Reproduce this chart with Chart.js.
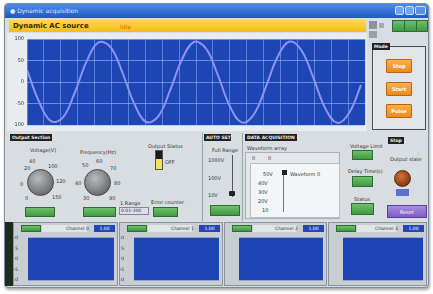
<!DOCTYPE html>
<html>
<head>
<meta charset="utf-8">
<script src="https://cdn.jsdelivr.net/npm/chart.js@4"></script>
<style>
  body { margin:0; width:433px; height:294px; background:#fff; overflow:hidden; position:relative; font-family:"DejaVu Sans", sans-serif; }
  .a { position:absolute; box-sizing:border-box; }
  .tag { background:#222; color:#eee; font-size:4.5px; line-height:7px; height:7px; padding:0 2px; font-weight:bold; white-space:nowrap; overflow:hidden; }
  .lbl { font-size:5px; color:#333; white-space:nowrap; }
  .green { background:linear-gradient(#6fbf6a,#3f9a42); border:1px solid #2d6e30; }
  .obtn { background:linear-gradient(#f9b04e,#ec8a1c); border:1px solid #b8650e; color:#fff; font-size:5px; font-weight:bold; text-align:center; line-height:12px; border-radius:1px; }
  .knob { border-radius:50%; background:radial-gradient(circle at 40% 35%, #b9bcbf, #6f7275 70%, #55585a); border:1px solid #444; }
  .panel { background:#c9ced3; border:1px solid #8c949b; }
</style>
</head>
<body>
<!-- window frame -->
<div class="a" style="left:4px;top:3px;width:425px;height:285px;background:#d8dde1;border:1px solid #7e8c99;border-radius:4px;box-shadow:1px 2px 3px rgba(0,0,0,.35)"></div>
<div class="a" style="left:5px;top:4px;width:423px;height:14px;background:linear-gradient(#4c8de6,#1f58c4);border-radius:3px 3px 0 0"></div>
<div class="a lbl" style="left:10px;top:7px;color:#dfe9ff;font-size:6px">&#9679; Dynamic acquisition</div>
<div class="a" style="left:395px;top:6px;width:9px;height:9px;background:#6fa3ee;border:1px solid #cfe0ff;border-radius:2px"></div>
<div class="a" style="left:405px;top:6px;width:9px;height:9px;background:#6fa3ee;border:1px solid #cfe0ff;border-radius:2px"></div>
<div class="a" style="left:415px;top:6px;width:11px;height:9px;background:#5b8fe0;border:1px solid #cfe0ff;border-radius:2px"></div>

<!-- yellow status bar -->
<div class="a" style="left:9px;top:20px;width:357px;height:12px;background:linear-gradient(#ffd84a,#f3bd1c)"></div>
<div class="a lbl" style="left:13px;top:22px;font-size:7px;font-weight:bold;color:#3a2a00">Dynamic AC source</div>
<div class="a lbl" style="left:120px;top:23px;font-size:6px;color:#d86a00">Idle</div>
<div class="a" style="left:369px;top:21px;width:8px;height:8px;background:#8d939a"></div>
<div class="a" style="left:379px;top:23px;width:5px;height:5px;background:#a6acb2"></div>
<div class="a" style="left:369px;top:31px;width:8px;height:7px;background:#9aa0a6"></div>
<div class="a green" style="left:392px;top:20px;width:36px;height:12px"></div>
<div class="a" style="left:404px;top:21px;width:1px;height:10px;background:#2d6e30"></div>
<div class="a" style="left:416px;top:21px;width:1px;height:10px;background:#2d6e30"></div>

<!-- main waveform chart -->
<div class="a" style="left:7px;top:33px;width:360px;height:98px;background:#e8ecef">
  <canvas id="mainChart" width="360" height="98"></canvas>
</div>

<!-- mode panel -->
<div class="a" style="left:372px;top:46px;width:54px;height:84px;border:1px solid #4a4f55;background:#e1e5e8"></div>
<div class="a tag" style="left:372px;top:43px">Mode</div>
<div class="a obtn" style="left:386px;top:59px;width:26px;height:14px">Stop</div>
<div class="a obtn" style="left:386px;top:82px;width:26px;height:14px">Start</div>
<div class="a obtn" style="left:386px;top:104px;width:26px;height:14px">Pulse</div>

<!-- output section -->
<div class="a tag" style="left:10px;top:134px;width:42px">Output Section</div>
<div class="a lbl" style="left:30px;top:147px">Voltage(V)</div>
<div class="a lbl" style="left:80px;top:149px">Frequency(Hz)</div>
<div class="a knob" style="left:27px;top:169px;width:27px;height:27px"></div>
<div class="a knob" style="left:84px;top:169px;width:27px;height:27px"></div>
<div class="a lbl" style="left:24px;top:165px">20</div>
<div class="a lbl" style="left:29px;top:158px">40</div>
<div class="a lbl" style="left:48px;top:163px">100</div>
<div class="a lbl" style="left:56px;top:178px">120</div>
<div class="a lbl" style="left:20px;top:181px">0</div>
<div class="a lbl" style="left:25px;top:195px">0</div>
<div class="a lbl" style="left:52px;top:194px">150</div>
<div class="a lbl" style="left:82px;top:162px">50</div>
<div class="a lbl" style="left:96px;top:158px">60</div>
<div class="a lbl" style="left:110px;top:165px">70</div>
<div class="a lbl" style="left:75px;top:180px">40</div>
<div class="a lbl" style="left:114px;top:180px">80</div>
<div class="a lbl" style="left:83px;top:195px">30</div>
<div class="a lbl" style="left:109px;top:195px">90</div>
<div class="a green" style="left:25px;top:207px;width:30px;height:10px"></div>
<div class="a green" style="left:83px;top:207px;width:33px;height:10px"></div>
<div class="a lbl" style="left:120px;top:200px">1 Range</div>
<div class="a" style="left:119px;top:207px;width:30px;height:8px;background:#dde;border:1px solid #888"></div>
<div class="a lbl" style="left:121px;top:208px;font-size:4.5px">0.01-200</div>
<div class="a lbl" style="left:148px;top:143px">Output Status</div>
<div class="a" style="left:155px;top:150px;width:8px;height:20px;background:linear-gradient(#1a1a1a 45%,#f2e25a 45%);border:1px solid #555"></div>
<div class="a lbl" style="left:165px;top:159px">OFF</div>
<div class="a lbl" style="left:151px;top:199px">Error counter</div>
<div class="a green" style="left:153px;top:207px;width:25px;height:10px"></div>
<div class="a" style="left:202px;top:133px;width:1px;height:88px;background:#9aa"></div>

<!-- auto set -->
<div class="a tag" style="left:204px;top:134px;width:27px">AUTO SET</div>
<div class="a lbl" style="left:212px;top:147px">Full Range</div>
<div class="a lbl" style="left:208px;top:157px">1000V</div>
<div class="a lbl" style="left:208px;top:175px">100V</div>
<div class="a lbl" style="left:208px;top:192px">10V</div>
<div class="a" style="left:232px;top:155px;width:1px;height:42px;background:#555"></div>
<div class="a" style="left:229px;top:191px;width:6px;height:5px;background:#222;border-radius:1px"></div>
<div class="a green" style="left:210px;top:205px;width:30px;height:11px"></div>
<div class="a" style="left:242px;top:133px;width:1px;height:88px;background:#9aa"></div>

<!-- data acquisition -->
<div class="a tag" style="left:245px;top:134px;width:52px">DATA ACQUISITION</div>
<div class="a lbl" style="left:247px;top:145px">Waveform array</div>
<div class="a" style="left:245px;top:152px;width:95px;height:67px;background:#e4e7ea;border:1px solid #a9b0b6"></div>
<div class="a lbl" style="left:252px;top:155px">0</div>
<div class="a lbl" style="left:268px;top:155px">0</div>
<div class="a" style="left:250px;top:163px;width:90px;height:55px;background:#f4f5f6;border:1px solid #b7bdc2"></div>
<div class="a lbl" style="left:263px;top:171px">50V</div>
<div class="a" style="left:282px;top:170px;width:5px;height:5px;background:#222"></div>
<div class="a lbl" style="left:290px;top:171px">Waveform 0</div>
<div class="a lbl" style="left:258px;top:180px">40V</div>
<div class="a lbl" style="left:258px;top:189px">30V</div>
<div class="a lbl" style="left:258px;top:198px">20V</div>
<div class="a lbl" style="left:262px;top:207px">10</div>
<div class="a" style="left:283px;top:175px;width:1px;height:37px;background:#777"></div>

<!-- right indicators -->
<div class="a lbl" style="left:350px;top:143px">Voltage Limit</div>
<div class="a green" style="left:352px;top:150px;width:21px;height:10px"></div>
<div class="a lbl" style="left:348px;top:168px">Delay Time(s)</div>
<div class="a green" style="left:352px;top:176px;width:21px;height:11px"></div>
<div class="a lbl" style="left:354px;top:196px">Status</div>
<div class="a green" style="left:351px;top:203px;width:23px;height:12px"></div>
<div class="a tag" style="left:388px;top:137px">Stop</div>
<div class="a lbl" style="left:390px;top:156px">Output state</div>
<div class="a" style="left:394px;top:170px;width:17px;height:17px;border-radius:50%;background:radial-gradient(circle at 40% 35%,#d0763a,#8a3410 75%);border:1px solid #5a2a10"></div>
<div class="a" style="left:396px;top:189px;width:13px;height:7px;background:#5a72c8"></div>
<div class="a" style="left:387px;top:205px;width:40px;height:13px;background:linear-gradient(#a98be0,#7e5cc2);border:1px solid #5b3f98;color:#fff;font-size:5px;text-align:center;line-height:12px">Reset</div>

<!-- bottom channel charts -->
<div class="a" style="left:5px;top:222px;width:8px;height:64px;background:#1d2a1d"></div>
<div class="a panel" style="left:13px;top:222px;width:105px;height:64px"></div>
<div class="a panel" style="left:119px;top:222px;width:104px;height:64px"></div>
<div class="a panel" style="left:224px;top:222px;width:103px;height:64px"></div>
<div class="a panel" style="left:328px;top:222px;width:99px;height:64px"></div>
<div id="bottom"></div>

<script>
// main waveform: time (ms) and voltage
const timeMs = [0, 12, 24, 36, 48, 60, 72, 84, 96, 108, 120, 132, 144, 156, 168, 180,
                192, 204, 216, 228, 240, 252, 264, 276, 288, 300, 312, 324, 336];
const voltage = [28, -45, -91, -83, -25, 48, 92, 81, 22, -51, -93, -80, -19, 53, 93, 78,
                 16, -56, -94, -76, -13, 58, 94, 74, 10, -61, -95, -72, -7];
const voltTicks = [-100, -50, 0, 50, 100];

// bottom channel strips
const channels = ['Channel 0', 'Channel 1', 'Channel 2', 'Channel 3'];
const channelTicks = [-10, -5, 0, 5, 10];

// paints the plot area in the instrument blue
const plotBg = {
  id: 'plotBg',
  beforeDraw(chart, args, opts) {
    const a = chart.chartArea;
    const ctx = chart.ctx;
    ctx.save();
    ctx.fillStyle = opts.color || '#1d45b4';
    ctx.fillRect(a.left, a.top, a.right - a.left, a.bottom - a.top);
    ctx.restore();
  }
};

new Chart(document.getElementById('mainChart'), {
  type: 'line',
  data: {
    datasets: [{
      data: timeMs.map((t, i) => ({ x: t, y: voltage[i] })),
      borderColor: '#8e93f2',
      borderWidth: 2,
      pointRadius: 0,
      tension: 0.4
    }]
  },
  plugins: [plotBg],
  options: {
    responsive: false,
    animation: false,
    layout: { padding: { top: 4, right: 2, bottom: 3, left: 0 } },
    plugins: { legend: { display: false }, tooltip: { enabled: false }, plotBg: { color: '#1d45b4' } },
    scales: {
      x: {
        type: 'linear', min: 0, max: 340,
        ticks: { display: false, stepSize: 17 },
        grid: { color: 'rgba(150,190,255,0.5)', drawTicks: false },
        border: { display: false }
      },
      y: {
        min: -100, max: 100,
        afterBuildTicks(axis) { axis.ticks = voltTicks.map(v => ({ value: v })); },
        afterFit(axis) { axis.width = 20; },
        ticks: { color: '#333', font: { size: 5, family: 'DejaVu Sans' }, padding: 3 },
        grid: { color: 'rgba(150,190,255,0.6)', drawTicks: false },
        border: { display: false }
      }
    }
  }
});

// small channel charts along the bottom
const boxes = [[13, 105], [119, 104], [224, 103], [328, 99]];
const holder = document.getElementById('bottom');
channels.forEach((name, i) => {
  const [left, w] = boxes[i];
  // header strip
  holder.insertAdjacentHTML('beforeend',
    `<div class="a green" style="left:${left + 8}px;top:225px;width:20px;height:7px"></div>` +
    `<div class="a" style="left:${left + 29}px;top:225px;width:${w - 60}px;height:7px;background:#e2e5e8"></div>` +
    `<div class="a lbl" style="left:${left + w - 52}px;top:226px;font-size:4.5px">${name}</div>` +
    `<div class="a" style="left:${left + w - 24}px;top:225px;width:21px;height:7px;background:#2346b8;color:#fff;font-size:4.5px;line-height:7px;text-align:center">1.00</div>` +
    `<div class="a" style="left:${left + 1}px;top:233px;width:${w - 2}px;height:52px"><canvas id="ch${i}" width="${w - 2}" height="52"></canvas></div>`);
});
channels.forEach((name, i) => {
  new Chart(document.getElementById('ch' + i), {
    type: 'line',
    data: { datasets: [{ data: [], borderColor: '#fff' }] },
    plugins: [plotBg],
    options: {
      responsive: false,
      animation: false,
      layout: { padding: { top: 2, right: 3, bottom: 1, left: 0 } },
      plugins: { legend: { display: false }, tooltip: { enabled: false }, plotBg: { color: '#1f44b6' } },
      scales: {
        x: { type: 'linear', min: 0, max: 100, display: false },
        y: {
          min: -10, max: 10,
          afterBuildTicks(axis) { axis.ticks = channelTicks.map(v => ({ value: v })); },
          afterFit(axis) { axis.width = 14; },
          ticks: { color: i < 2 ? '#333' : 'rgba(0,0,0,0)', font: { size: 4.5, family: 'DejaVu Sans' }, padding: 2 },
          grid: { display: false },
          border: { display: false }
        }
      }
    }
  });
});
</script>
</body>
</html>
